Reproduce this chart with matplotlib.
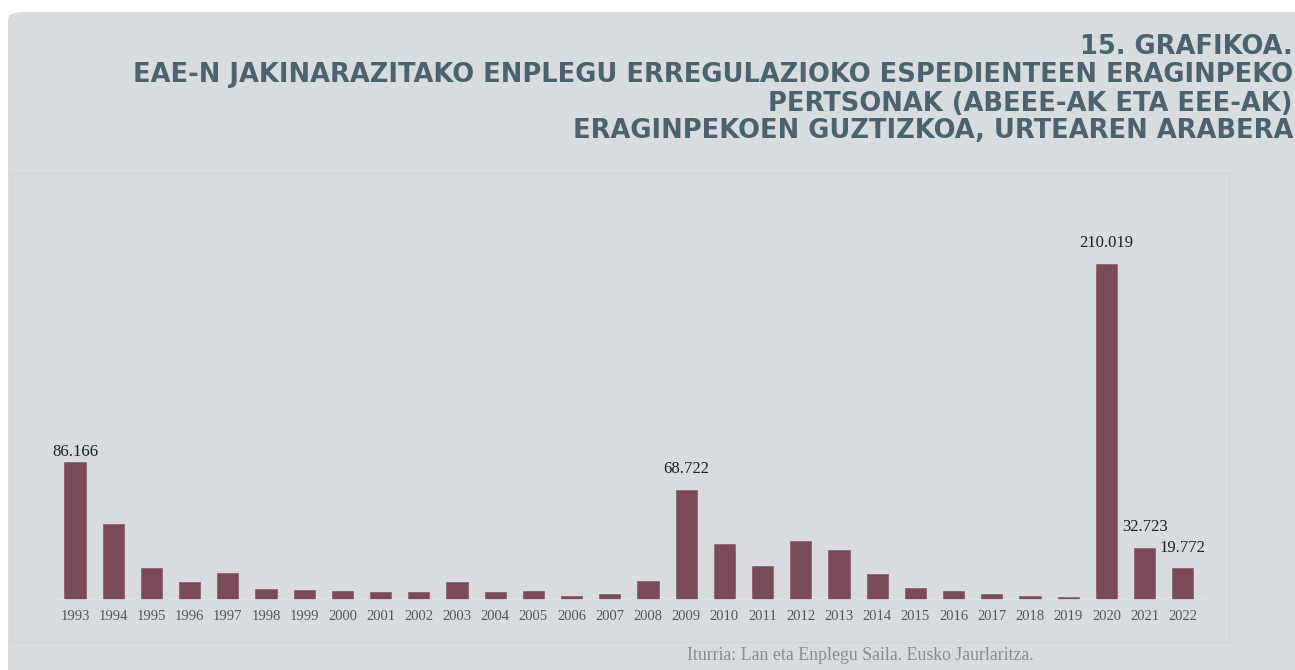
import matplotlib.pyplot as plt
from matplotlib.patches import FancyBboxPatch, Rectangle

years = [str(y) for y in range(1993, 2023)]
people = [86166, 47500, 20000, 11000, 16900, 7100, 6400, 5600, 5000, 5000,
          11400, 4800, 5400, 2700, 3900, 12100, 68722, 34800, 21400, 36900,
          31000, 16000, 7500, 5600, 3800, 2500, 1900, 210019, 32723, 19772]
labelled = {"1993": "86.166", "2009": "68.722", "2020": "210.019",
            "2021": "32.723", "2022": "19.772"}

title_lines = [
    "15. GRAFIKOA.",
    "EAE-N JAKINARAZITAKO ENPLEGU ERREGULAZIOKO ESPEDIENTEEN ERAGINPEKO",
    "PERTSONAK (ABEEE-AK ETA EEE-AK)",
    "ERAGINPEKOEN GUZTIZKOA, URTEAREN ARABERA",
]
source = "Iturria: Lan eta Enplegu Saila. Eusko Jaurlaritza."

W, H = 1295, 670
BG = "#d9dcdf"
BAR = "#7b4b5a"
TITLE = "#4c636d"


def px(x, y):
    # pixel coords (from top-left) -> figure fraction
    return x / W, 1 - y / H


fig = plt.figure(figsize=(12.95, 6.70), dpi=100)
fig.patch.set_facecolor("white")

# grey card, rounded only where it shows (top-left)
panel = FancyBboxPatch(px(8, 700), (W - 8) / W + 0.02, (700 - 12) / H,
                       boxstyle="round,pad=0,rounding_size=0.012",
                       transform=fig.transFigure, facecolor=BG,
                       edgecolor="none", zorder=-2)
fig.patches.append(panel)
inner = Rectangle(px(12, 642), (1229 - 12) / W, (642 - 173) / H,
                  transform=fig.transFigure, facecolor="none",
                  edgecolor="#d2d4d7", linewidth=1, zorder=-1)
fig.patches.append(inner)

for line, yc in zip(title_lines, [47, 75, 104, 131]):
    fx, fy = px(1293, yc)
    fig.text(fx, fy, line, ha="right", va="center", color=TITLE,
             fontsize=18.5, fontweight="heavy", family="DejaVu Sans")

# axes: spacing 38.2 px, xlim(-1, 30), baseline at y=600
left, right = 36.8, 36.8 + 31 * 38.2
ax = fig.add_axes([left / W, (H - 600) / H, (right - left) / W, 368 / H])
ax.set_facecolor("none")
xs = list(range(len(years)))
ax.bar(xs, people, width=0.55, color=BAR, edgecolor="#8c6471", linewidth=0.6)
ax.set_xlim(-1, 30)
ax.set_ylim(0, 230000)
ax.axhline(0, xmin=0.5 / 31, xmax=30.6 / 31, color="#e2e3e5", linewidth=1.2)

for x, yr, v in zip(xs, years, people):
    if yr in labelled:
        off = 7 if yr == "1993" else 15
        ax.annotate(labelled[yr], (x, v), xytext=(0, off),
                    textcoords="offset points", ha="center", va="center",
                    fontsize=12, color="#1e1e1e", family="Liberation Serif")

ax.set_xticks(xs)
ax.set_xticklabels(years, fontsize=10.5, color="#555555",
                   family="Liberation Serif")
ax.tick_params(axis="x", length=0, pad=7)
ax.set_yticks([])
for s in ax.spines.values():
    s.set_visible(False)

fx, fy = px(860, 655)
fig.text(fx, fy, source, ha="center", va="center", fontsize=12.8,
         color="#8a8a8a", family="Liberation Serif")

fig.savefig("out.png", dpi=100)
